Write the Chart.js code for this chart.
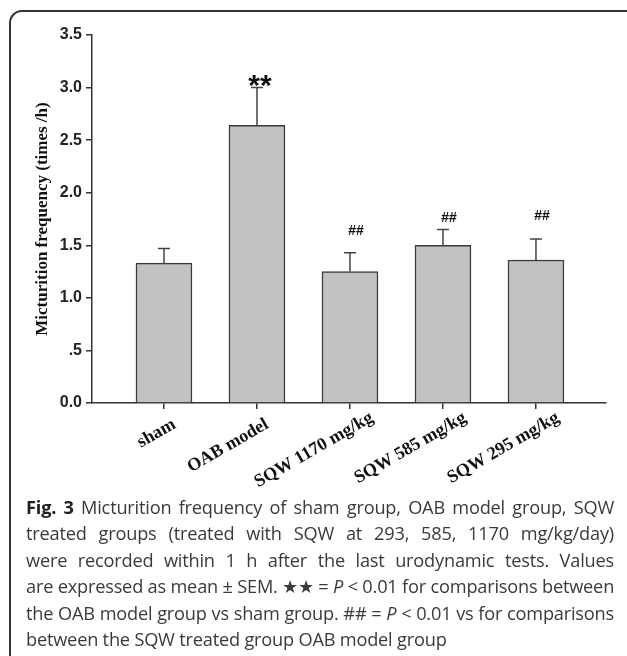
<!DOCTYPE html>
<html>
<head>
<meta charset="utf-8">
<script src="https://cdn.jsdelivr.net/npm/chart.js@4.4.1/dist/chart.umd.min.js"></script>
<style>
  html, body { margin: 0; padding: 0; background: #fff; }
  #wrap { position: relative; width: 627px; height: 656px; overflow: hidden; }
  #frame { position: absolute; left: 9px; top: 10px; width: 640px; height: 700px;
           border-top: 2px solid #333; border-left: 2px solid #333; border-top-left-radius: 13px; }
  #chart { position: absolute; left: 0; top: 0; }
  #caption { position: absolute; left: 26px; top: 494px; width: 588px;
             font-family: "Open Sans", sans-serif; font-size: 18.2px; color: #3a3a3a; line-height: 26.4px;
             letter-spacing: -0.2px; }
  #caption div { white-space: nowrap; text-align: justify; text-align-last: justify; }
  #caption div.last { text-align-last: left; }
  #caption b { color: #222; }
</style>
</head>
<body>
<div id="wrap">
  <div id="frame"></div>
  <canvas id="chart" width="627" height="500"></canvas>
  <div id="caption">
    <div><b>Fig. 3</b> Micturition frequency of sham group, OAB model group, SQW</div>
    <div>treated groups (treated with SQW at 293, 585, 1170 mg/kg/day)</div>
    <div>were recorded within 1 h after the last urodynamic tests. Values</div>
    <div>are expressed as mean ± SEM. ★★ = <i>P</i> &lt; 0.01 for comparisons between</div>
    <div>the OAB model group vs sham group. ## = <i>P</i> &lt; 0.01 vs for comparisons</div>
    <div class="last">between the SQW treated group OAB model group</div>
  </div>
</div>
<script>
// số liệu
const groups = ['sham', 'OAB model', 'SQW 1170 mg/kg', 'SQW 585 mg/kg', 'SQW 295 mg/kg'];
const means = [1.33, 2.64, 1.25, 1.50, 1.36];
const sems = [0.14, 0.36, 0.18, 0.15, 0.20];
const marks = ['', '**', '##', '##', '##'];
const markLevel = [null, 3.08, 1.63, 1.76, 1.78];
const yTicks = [0, 0.5, 1, 1.5, 2, 2.5, 3, 3.5];

const axisColor = '#333';

// vẽ thanh sai số (chỉ phía trên) và ký hiệu
const errorBars = {
  id: 'errorBars',
  afterDatasetsDraw(chart) {
    const ctx = chart.ctx;
    const xs = chart.scales.x, ys = chart.scales.y;
    ctx.save();
    ctx.strokeStyle = '#444';
    ctx.lineWidth = 1.5;
    means.forEach((m, i) => {
      const x = xs.getPixelForValue(i);
      const y0 = ys.getPixelForValue(m);
      const y1 = ys.getPixelForValue(m + sems[i]);
      ctx.beginPath();
      ctx.moveTo(x, y0);
      ctx.lineTo(x, y1);
      ctx.moveTo(x - 6, y1);
      ctx.lineTo(x + 6, y1);
      ctx.stroke();
    });
    ctx.fillStyle = '#111';
    ctx.textAlign = 'center';
    ctx.textBaseline = 'middle';
    markLevel.forEach((lv, i) => {
      if (lv == null) return;
      const x = xs.getPixelForValue(i) + 3;
      const y = ys.getPixelForValue(lv);
      if (marks[i] === '**') {
        ctx.font = 'bold 30px "Liberation Sans", Arial';
        ctx.fillText('**', x, y + 8);
      } else {
        ctx.font = 'bold 14px "Liberation Sans", Arial';
        ctx.fillText(marks[i], x + 3, y);
      }
    });
    ctx.restore();
  }
};

new Chart(document.getElementById('chart'), {
  type: 'bar',
  data: {
    datasets: [{
      data: means.map((v, i) => ({ x: i, y: v })),
      backgroundColor: '#c2c2c2',
      borderColor: '#3a3a3a',
      borderWidth: 1.5,
      barThickness: 56
    }]
  },
  options: {
    responsive: false,
    animation: false,
    layout: { padding: { left: 12, top: 35, right: 21, bottom: 0 } },
    plugins: { legend: { display: false }, tooltip: { enabled: false } },
    scales: {
      x: {
        type: 'linear',
        offset: false,
        min: -0.774,
        max: 4.753,
        afterBuildTicks: s => { s.ticks = groups.map((_, i) => ({ value: i })); },
        afterFit: s => { s.height = 97; },
        border: { display: true, color: axisColor, width: 1.5 },
        grid: { offset: false, drawOnChartArea: false, color: axisColor, lineWidth: 1.5, tickLength: 6 },
        ticks: {
          autoSkip: false,
          minRotation: 30,
          maxRotation: 30,
          padding: -2,
          labelOffset: 22,
          color: '#111',
          font: { family: '"Liberation Serif", "Times New Roman", serif', size: 18, weight: 'bold' },
          // sham / OAB model đứng gần vạch chia hơn trong hình gốc
          callback: v => v < 2 ? groups[v] + '   ' : groups[v]
        }
      },
      y: {
        min: 0,
        max: 3.5,
        afterBuildTicks: s => { s.ticks = yTicks.map(v => ({ value: v })); },
        afterFit: s => { s.width = 80; },
        border: { display: true, color: axisColor, width: 1.5 },
        grid: { drawOnChartArea: false, color: axisColor, lineWidth: 1.5, tickLength: 6 },
        ticks: {
          padding: 4,
          color: '#222',
          font: { family: '"Liberation Sans", Arial, sans-serif', size: 16, weight: 'bold' },
          callback: v => v === 0 ? '0.0' : (v < 1 ? '.5' : v.toFixed(1))
        },
        title: {
          display: true,
          text: 'Micturition frequency (times /h)',
          color: '#111',
          padding: { top: 20, bottom: 0 },
          font: { family: '"Liberation Serif", "Times New Roman", serif', size: 17, weight: 'bold' }
        }
      }
    }
  },
  plugins: [errorBars]
});
</script>
</body>
</html>
